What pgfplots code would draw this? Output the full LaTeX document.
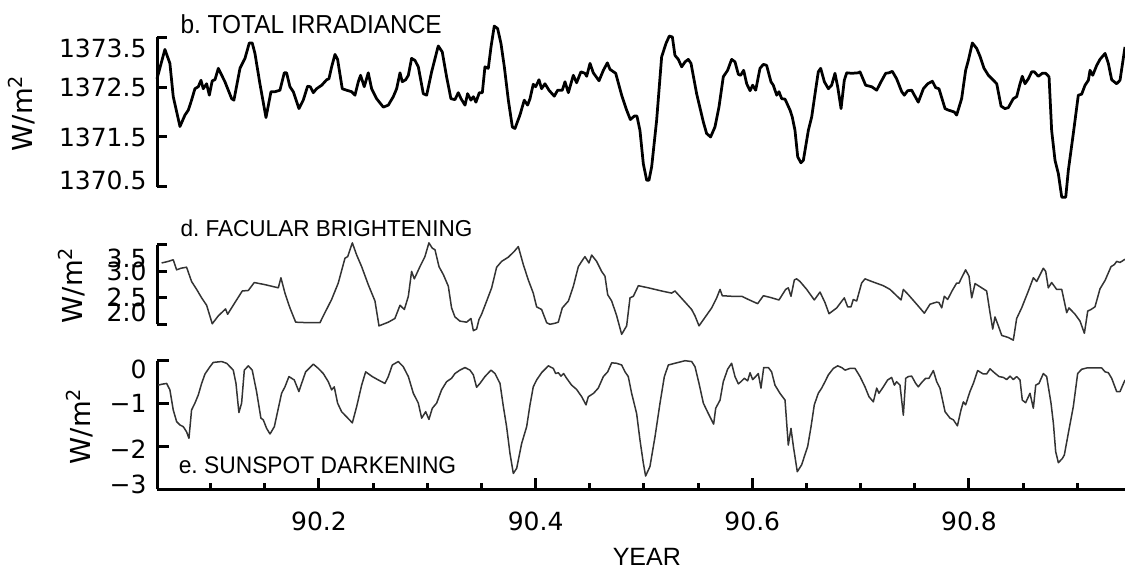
\documentclass[border=0pt]{standalone}
\usepackage{pgfplots}
\pgfplotsset{compat=1.18}
\usepackage{fontspec}
\setmainfont{Liberation Sans}
\newfontfamily\tickfont{DejaVu Sans}
\newcommand{\rb}[2]{\raisebox{#1}[\height][\depth]{#2}}
\begin{document}
\begin{tikzpicture}
\useasboundingbox (0,0) rectangle (450pt,-226.8pt);
\pgfplotsset{
  every axis title shift=0pt,
  panel/.style={
    scale only axis, width=387.2pt,
    xmin=90.0505, xmax=90.944,
    clip=false,
    axis y line*=left,
    y axis line style={-, line width=1.2pt},
    ytick pos=left,
    tick align=inside,
    major tick length=4pt,
    tick style={line width=1.2pt, black},
    yticklabel style={font=\tickfont\fontsize{10pt}{12pt}\selectfont, inner sep=0pt, anchor=east, xshift=-4pt},
    ylabel={W/m\textsuperscript{2}},
    title style={font=\fontsize{10pt}{12pt}\selectfont, inner sep=0pt, anchor=base west},
  },
}
% ---------------- b. TOTAL IRRADIANCE
\begin{axis}[panel,
  axis x line=none,
  at={(62.8pt,-74.68pt)}, anchor=south west,
  height=59.68pt,
  ymin=1370.5, ymax=1373.5,
  ytick={1370.5,1371.5,1372.5,1373.5},
  yticklabels={\rb{2.4pt}{1370.5},1371.5,1372.5,\rb{-4.4pt}{1373.5}},
  ylabel style={font=\tickfont\fontsize{11pt}{13pt}\selectfont, at={(axis description cs:-0.1395,0.494)}, anchor=center},
  title={\fontsize{10.4pt}{12pt}\selectfont\scalebox{0.94}[1]{b.\ TOTAL IRRADIANCE}},
  title style={at={(axis description cs:0.0238,1.028)}},
]
\addplot[black, line width=1.1pt, line join=round] coordinates {
(90.0505,1372.67)(90.0578,1373.26)(90.0624,1372.98)(90.0655,1372.31)(90.0717,1371.71)(90.0763,1371.94)(90.0794,1372.04)(90.0824,1372.24)(90.0855,1372.47)(90.0886,1372.51)(90.0911,1372.64)(90.0932,1372.47)(90.0963,1372.57)(90.0988,1372.34)(90.1015,1372.63)(90.1040,1372.65)(90.1071,1372.88)(90.1132,1372.61)(90.1194,1372.27)(90.1215,1372.24)(90.1271,1372.88)(90.1317,1373.08)(90.1357,1373.39)(90.1384,1373.39)(90.1409,1373.18)(90.1455,1372.57)(90.1511,1371.89)(90.1557,1372.41)(90.1594,1372.41)(90.1640,1372.44)(90.1680,1372.79)(90.1701,1372.79)(90.1732,1372.51)(90.1763,1372.41)(90.1815,1372.07)(90.1855,1372.24)(90.1895,1372.52)(90.1920,1372.51)(90.1948,1372.39)(90.1978,1372.47)(90.2025,1372.54)(90.2071,1372.65)(90.2092,1372.67)(90.2117,1372.91)(90.2148,1373.16)(90.2172,1373.06)(90.2215,1372.47)(90.2255,1372.44)(90.2301,1372.41)(90.2332,1372.34)(90.2363,1372.61)(90.2384,1372.74)(90.2418,1372.51)(90.2455,1372.79)(90.2486,1372.47)(90.2532,1372.27)(90.2594,1372.10)(90.2640,1372.14)(90.2686,1372.31)(90.2717,1372.47)(90.2748,1372.79)(90.2769,1372.61)(90.2800,1372.65)(90.2825,1372.74)(90.2855,1373.08)(90.2886,1373.04)(90.2917,1372.91)(90.2963,1372.37)(90.2994,1372.34)(90.3040,1372.81)(90.3101,1373.33)(90.3138,1373.21)(90.3178,1372.71)(90.3218,1372.27)(90.3255,1372.25)(90.3286,1372.39)(90.3311,1372.27)(90.3348,1372.14)(90.3372,1372.37)(90.3403,1372.24)(90.3425,1372.31)(90.3449,1372.20)(90.3480,1372.39)(90.3508,1372.39)
(90.3532,1372.91)(90.3563,1372.88)(90.3588,1373.31)(90.3618,1373.73)(90.3649,1373.68)(90.3680,1373.38)(90.3711,1372.91)(90.3748,1372.24)(90.3785,1371.70)(90.3809,1371.67)(90.3855,1371.94)(90.3895,1372.24)(90.3926,1372.14)(90.3948,1372.27)(90.3978,1372.56)(90.4000,1372.51)(90.4031,1372.65)(90.4055,1372.47)(90.4086,1372.57)(90.4123,1372.44)(90.4172,1372.32)(90.4203,1372.44)(90.4246,1372.44)(90.4271,1372.61)(90.4302,1372.39)(90.4348,1372.74)(90.4378,1372.59)(90.4418,1372.81)(90.4455,1372.78)(90.4471,1372.72)(90.4502,1372.98)(90.4532,1372.79)(90.4585,1372.63)(90.4625,1372.84)(90.4662,1372.99)(90.4686,1372.86)(90.4739,1372.78)(90.4794,1372.34)(90.4840,1372.04)(90.4874,1371.85)(90.4911,1371.92)(90.4935,1371.92)(90.4963,1371.63)(90.4994,1370.96)(90.5025,1370.63)(90.5046,1370.63)(90.5071,1370.90)(90.5117,1371.84)(90.5163,1373.11)(90.5203,1373.38)(90.5234,1373.53)(90.5262,1373.51)(90.5286,1373.14)(90.5317,1373.06)(90.5348,1372.91)(90.5379,1373.01)(90.5409,1373.06)(90.5434,1372.98)(90.5486,1372.37)(90.5548,1371.80)(90.5578,1371.57)(90.5615,1371.50)(90.5655,1371.70)(90.5692,1372.10)(90.5732,1372.71)(90.5772,1372.84)(90.5809,1373.06)(90.5840,1373.01)(90.5871,1372.76)(90.5892,1372.74)(90.5920,1372.84)(90.5948,1372.57)(90.5979,1372.43)(90.6003,1372.54)(90.6031,1372.44)(90.6071,1372.88)(90.6102,1372.96)(90.6132,1372.94)(90.6172,1372.61)(90.6194,1372.54)(90.6225,1372.34)(90.6246,1372.41)(90.6271,1372.27)(90.6302,1372.26)(90.6348,1372.04)(90.6369,1371.90)(90.6394,1371.63)
(90.6419,1371.10)(90.6449,1370.98)(90.6471,1371.03)(90.6517,1371.63)(90.6548,1371.90)(90.6579,1372.37)(90.6609,1372.81)(90.6631,1372.88)(90.6665,1372.61)(90.6702,1372.47)(90.6732,1372.54)(90.6763,1372.78)(90.6788,1372.51)(90.6819,1372.07)(90.6849,1372.64)(90.6871,1372.79)(90.6917,1372.78)(90.6979,1372.79)(90.6994,1372.81)(90.7046,1372.54)(90.7102,1372.51)(90.7148,1372.44)(90.7188,1372.61)(90.7231,1372.78)(90.7262,1372.79)(90.7292,1372.82)(90.7332,1372.67)(90.7379,1372.41)(90.7403,1372.34)(90.7434,1372.43)(90.7471,1372.44)(90.7496,1372.34)(90.7532,1372.20)(90.7579,1372.47)(90.7619,1372.57)(90.7662,1372.62)(90.7693,1372.49)(90.7723,1372.47)(90.7779,1372.07)(90.7809,1372.04)(90.7840,1372.02)(90.7865,1372.00)(90.7886,1371.94)(90.7932,1372.27)(90.7969,1372.84)(90.7994,1373.04)(90.8031,1373.39)(90.8071,1373.28)(90.8102,1373.12)(90.8139,1372.88)(90.8179,1372.74)(90.8225,1372.64)(90.8256,1372.57)(90.8296,1372.12)(90.8332,1372.07)(90.8363,1372.09)(90.8409,1372.27)(90.8440,1372.31)(90.8471,1372.57)(90.8492,1372.72)(90.8517,1372.57)(90.8548,1372.67)(90.8579,1372.81)(90.8603,1372.81)(90.8640,1372.72)(90.8677,1372.78)(90.8708,1372.78)(90.8739,1372.71)(90.8763,1371.63)(90.8794,1371.03)(90.8825,1370.76)(90.8856,1370.29)(90.8893,1370.29)(90.8917,1370.83)(90.8963,1371.57)(90.9009,1372.34)(90.9040,1372.36)(90.9071,1372.54)(90.9102,1372.64)(90.9117,1372.84)(90.9142,1372.74)(90.9179,1372.94)(90.9209,1373.06)(90.9256,1373.18)(90.9286,1372.98)(90.9317,1372.65)(90.9363,1372.57)(90.9394,1372.64)(90.9440,1373.31)
};
\end{axis}
% ---------------- d. FACULAR BRIGHTENING
\begin{axis}[panel,
  axis x line=none,
  at={(62.8pt,-129.72pt)}, anchor=south west,
  height=31.72pt,
  ymin=2.0, ymax=3.5,
  ytick={2.0,2.5,3.0,3.5},
  yticklabels={\rb{4.8pt}{2.0},2.5,3.0,\rb{-5.2pt}{3.5}},
  ylabel style={font=\tickfont\fontsize{11pt}{13pt}\selectfont, at={(axis description cs:-0.0878,0.496)}, anchor=center},
  title={\fontsize{9.2pt}{11pt}\selectfont\scalebox{0.98}[1]{d.\ FACULAR BRIGHTENING}},
  title style={at={(axis description cs:0.0238,1.105)}},
]
\addplot[black!80, line width=0.6pt, line join=round] coordinates {
(90.0548,3.16)(90.0609,3.19)(90.0655,3.22)(90.0686,3.03)(90.0726,3.06)(90.0778,3.08)(90.0824,2.81)(90.0871,2.66)(90.0917,2.50)(90.0963,2.36)(90.1015,2.01)(90.1071,2.16)(90.1117,2.25)(90.1138,2.29)(90.1157,2.19)(90.1224,2.41)(90.1292,2.63)(90.1348,2.64)(90.1403,2.79)(90.1501,2.75)(90.1625,2.69)(90.1649,2.88)(90.1686,2.59)(90.1732,2.31)(90.1785,2.04)(90.1901,2.03)(90.2009,2.03)(90.2055,2.22)(90.2117,2.47)(90.2178,2.78)(90.2240,3.25)(90.2265,3.28)(90.2308,3.54)(90.2348,3.31)(90.2394,3.09)(90.2455,2.75)(90.2517,2.44)(90.2554,1.97)(90.2640,2.04)(90.2701,2.11)(90.2748,2.36)(90.2788,2.28)(90.2825,2.53)(90.2855,3.00)(90.2880,2.86)(90.2932,3.09)(90.2978,3.28)(90.3015,3.54)(90.3046,3.44)(90.3071,3.41)(90.3108,3.09)(90.3148,2.94)(90.3194,2.72)(90.3224,2.31)(90.3255,2.14)(90.3301,2.06)(90.3363,2.04)(90.3403,2.11)(90.3425,1.88)(90.3455,1.91)(90.3477,2.09)(90.3501,2.19)
(90.3548,2.44)(90.3594,2.69)(90.3640,3.08)(90.3686,3.19)(90.3748,3.27)(90.3803,3.38)(90.3840,3.47)(90.3886,3.13)(90.3932,2.84)(90.3978,2.59)(90.4009,2.33)(90.4055,2.28)(90.4102,2.03)(90.4132,2.00)(90.4178,2.02)(90.4209,2.04)(90.4246,2.31)(90.4302,2.44)(90.4348,2.72)(90.4394,3.09)(90.4425,3.19)(90.4455,3.28)(90.4492,3.16)(90.4517,3.31)(90.4563,3.19)(90.4609,3.00)(90.4640,2.91)(90.4665,2.56)(90.4702,2.44)(90.4748,2.16)(90.4794,1.81)(90.4840,1.97)(90.4871,2.50)(90.4902,2.53)(90.4948,2.73)(90.5040,2.69)(90.5163,2.63)(90.5255,2.59)(90.5286,2.63)(90.5317,2.56)(90.5379,2.42)(90.5440,2.28)(90.5471,2.16)(90.5508,1.97)(90.5563,2.13)(90.5625,2.31)(90.5671,2.50)(90.5702,2.66)(90.5723,2.54)(90.5809,2.53)(90.5902,2.53)(90.5963,2.47)(90.6049,2.39)(90.6102,2.54)(90.6163,2.51)(90.6246,2.46)(90.6308,2.66)(90.6332,2.69)(90.6357,2.53)(90.6388,2.84)(90.6409,2.86)
(90.6440,2.81)(90.6502,2.66)(90.6572,2.46)(90.6625,2.61)(90.6671,2.41)(90.6708,2.20)(90.6779,2.31)(90.6849,2.50)(90.6880,2.33)(90.6911,2.33)(90.6932,2.47)(90.6963,2.44)(90.7009,2.78)(90.7040,2.86)(90.7102,2.81)(90.7209,2.73)(90.7271,2.66)(90.7373,2.46)(90.7394,2.66)(90.7440,2.56)(90.7517,2.38)(90.7588,2.21)(90.7640,2.38)(90.7702,2.42)(90.7723,2.41)(90.7748,2.31)(90.7772,2.53)(90.7803,2.47)(90.7846,2.64)(90.7886,2.78)(90.7908,2.78)(90.7932,2.88)(90.7969,3.03)(90.8000,2.91)(90.8025,2.50)(90.8056,2.77)(90.8117,2.69)(90.8163,2.63)(90.8194,2.22)(90.8219,1.91)(90.8240,2.14)(90.8271,1.97)(90.8302,1.79)(90.8363,1.75)(90.8409,1.70)(90.8440,2.11)(90.8486,2.31)(90.8548,2.63)(90.8594,2.88)(90.8625,2.81)(90.8686,3.06)(90.8708,3.00)(90.8732,2.69)(90.8763,2.79)(90.8809,2.66)(90.8856,2.66)(90.8902,2.22)(90.8923,2.31)(90.8979,2.19)(90.9025,2.06)(90.9065,1.83)(90.9096,2.25)(90.9126,2.28)(90.9163,2.33)(90.9209,2.67)(90.9256,2.83)(90.9311,3.09)(90.9342,3.13)(90.9363,3.19)(90.9394,3.17)(90.9440,3.23)
};
\end{axis}
% ---------------- e. SUNSPOT DARKENING
\begin{axis}[panel,
  at={(62.8pt,-195.72pt)}, anchor=south west,
  height=51.44pt,
  axis x line*=bottom,
  x axis line style={-, line width=1.2pt},
  xtick pos=bottom,
  ymin=-3, ymax=0,
  ytick={-3,-2,-1,0},
  yticklabels={\rb{2pt}{−3},\rb{-1.2pt}{−2},−1,\rb{-3.6pt}{0}},
  xtick={90.2,90.4,90.6,90.8},
  xticklabels={90.2,90.4,90.6,90.8},
  minor xtick={90.1,90.15,90.25,90.3,90.35,90.45,90.5,90.55,90.65,90.7,90.75,90.85,90.9},
  major tick length=4.6pt,
  minor tick length=2.4pt,
  xticklabel style={font=\tickfont\fontsize{10pt}{12pt}\selectfont, inner sep=0pt, anchor=north, yshift=-9pt},
  ylabel style={font=\tickfont\fontsize{11pt}{13pt}\selectfont, at={(axis description cs:-0.0795,0.492)}, anchor=center},
  xlabel={YEAR},
  xlabel style={font=\fontsize{10pt}{12pt}\selectfont, inner sep=0pt, at={(axis description cs:0.506,-0.589)}, anchor=base},
  title={\fontsize{9.6pt}{11pt}\selectfont\scalebox{0.95}[1]{e.\ SUNSPOT DARKENING}},
  title style={at={(axis description cs:0.022,0.124)}},
]
\addplot[black!80, line width=0.6pt, line join=round] coordinates {
(90.0517,-0.57)(90.0548,-0.55)(90.0594,-0.53)(90.0624,-0.68)(90.0655,-1.15)(90.0686,-1.42)(90.0717,-1.50)(90.0748,-1.54)(90.0778,-1.66)(90.0800,-1.81)(90.0824,-1.15)(90.0855,-0.99)(90.0886,-0.80)(90.0917,-0.53)(90.0948,-0.31)(90.0994,-0.14)(90.1024,-0.04)(90.1101,-0.02)(90.1148,-0.06)(90.1209,-0.22)(90.1234,-0.53)(90.1261,-1.21)(90.1286,-0.99)(90.1311,-0.22)(90.1348,-0.12)(90.1384,-0.22)(90.1424,-0.72)(90.1464,-1.34)(90.1486,-1.38)(90.1517,-1.58)(90.1548,-1.71)(90.1588,-1.54)(90.1618,-1.19)(90.1655,-0.76)(90.1686,-0.61)(90.1723,-0.37)(90.1772,-0.45)(90.1815,-0.72)(90.1840,-0.53)(90.1877,-0.26)(90.1948,-0.08)(90.1994,-0.18)(90.2040,-0.30)(90.2086,-0.49)(90.2117,-0.68)(90.2141,-0.61)(90.2172,-0.99)(90.2209,-1.19)(90.2255,-1.31)(90.2308,-1.45)(90.2348,-1.07)(90.2394,-0.57)(90.2431,-0.26)(90.2492,-0.37)(90.2548,-0.45)(90.2609,-0.53)(90.2640,-0.37)(90.2677,-0.10)(90.2732,-0.02)(90.2778,-0.14)(90.2825,-0.37)(90.2871,-0.76)(90.2917,-0.99)(90.2948,-1.34)(90.2985,-1.19)(90.3015,-1.37)(90.3046,-1.11)(90.3086,-0.99)(90.3132,-0.68)(90.3178,-0.49)(90.3224,-0.41)(90.3255,-0.30)(90.3301,-0.22)(90.3348,-0.16)(90.3394,-0.22)(90.3425,-0.33)(90.3455,-0.62)(90.3486,-0.53)
(90.3532,-0.37)(90.3588,-0.22)(90.3625,-0.30)(90.3671,-0.53)(90.3702,-1.07)(90.3732,-1.54)(90.3763,-2.16)(90.3794,-2.63)(90.3825,-2.51)(90.3871,-1.93)(90.3917,-1.54)(90.3948,-1.03)(90.3978,-0.61)(90.4009,-0.45)(90.4055,-0.28)(90.4117,-0.12)(90.4163,-0.18)(90.4185,-0.30)(90.4209,-0.28)(90.4234,-0.36)(90.4258,-0.30)(90.4286,-0.41)(90.4332,-0.57)(90.4378,-0.67)(90.4425,-0.84)(90.4465,-1.03)(90.4486,-0.84)(90.4511,-0.80)(90.4535,-0.76)(90.4578,-0.64)(90.4625,-0.37)(90.4665,-0.26)(90.4702,-0.05)(90.4748,-0.06)(90.4794,-0.10)(90.4825,-0.26)(90.4855,-0.37)(90.4886,-0.76)(90.4932,-1.23)(90.4963,-1.85)(90.4994,-2.39)(90.5015,-2.69)(90.5055,-2.47)(90.5102,-1.77)(90.5148,-0.99)(90.5188,-0.37)(90.5225,-0.10)(90.5286,-0.06)(90.5379,0.00)(90.5440,-0.02)(90.5471,-0.14)(90.5508,-0.53)(90.5548,-0.99)(90.5578,-1.15)(90.5609,-1.31)(90.5643,-1.48)(90.5662,-1.11)(90.5702,-0.92)(90.5732,-0.49)(90.5772,-0.20)(90.5809,-0.06)(90.5840,-0.37)(90.5871,-0.54)(90.5895,-0.49)(90.5926,-0.41)(90.5957,-0.47)(90.5979,-0.28)(90.6003,-0.44)(90.6031,-0.37)(90.6055,-0.30)(90.6080,-0.64)(90.6105,-0.16)(90.6148,-0.16)(90.6178,-0.26)(90.6209,-0.57)(90.6255,-0.76)(90.6302,-0.92)(90.6332,-1.97)(90.6357,-1.58)(90.6379,-2.00)(90.6415,-2.59)(90.6455,-2.43)
(90.6511,-2.00)(90.6542,-1.54)(90.6572,-1.03)(90.6609,-0.76)(90.6640,-0.64)(90.6671,-0.49)(90.6702,-0.33)(90.6748,-0.18)(90.6788,-0.12)(90.6825,-0.16)(90.6856,-0.22)(90.6902,-0.18)(90.6948,-0.18)(90.6994,-0.37)(90.7040,-0.61)(90.7077,-0.84)(90.7117,-0.96)(90.7148,-0.64)(90.7169,-0.76)(90.7209,-0.61)(90.7249,-0.45)(90.7286,-0.39)(90.7311,-0.57)(90.7332,-0.49)(90.7363,-0.57)(90.7394,-1.27)(90.7416,-0.41)(90.7440,-0.37)(90.7471,-0.36)(90.7508,-0.53)(90.7532,-0.61)(90.7563,-0.51)(90.7600,-0.41)(90.7631,-0.41)(90.7671,-0.23)(90.7702,-0.49)(90.7732,-0.64)(90.7779,-1.19)(90.7825,-1.34)(90.7856,-1.38)(90.7893,-1.52)(90.7926,-1.15)(90.7948,-0.96)(90.7969,-1.03)(90.8009,-0.72)(90.8040,-0.53)(90.8080,-0.23)(90.8132,-0.31)(90.8163,-0.31)(90.8194,-0.19)(90.8234,-0.28)(90.8277,-0.37)(90.8317,-0.39)(90.8348,-0.44)(90.8379,-0.36)(90.8409,-0.44)(90.8440,-0.37)(90.8471,-0.45)(90.8492,-0.92)(90.8523,-0.98)(90.8563,-0.76)(90.8594,-1.11)(90.8616,-0.57)(90.8646,-0.53)(90.8686,-0.30)(90.8717,-0.37)(90.8757,-0.99)(90.8779,-1.46)(90.8800,-2.12)(90.8825,-2.38)(90.8862,-2.28)(90.8880,-2.20)(90.8917,-1.69)(90.8963,-1.07)(90.9003,-0.30)(90.9040,-0.20)(90.9086,-0.17)(90.9225,-0.17)(90.9256,-0.26)(90.9286,-0.28)(90.9317,-0.41)(90.9363,-0.72)(90.9394,-0.72)(90.9440,-0.45)
};
\end{axis}
\end{tikzpicture}
\end{document}
